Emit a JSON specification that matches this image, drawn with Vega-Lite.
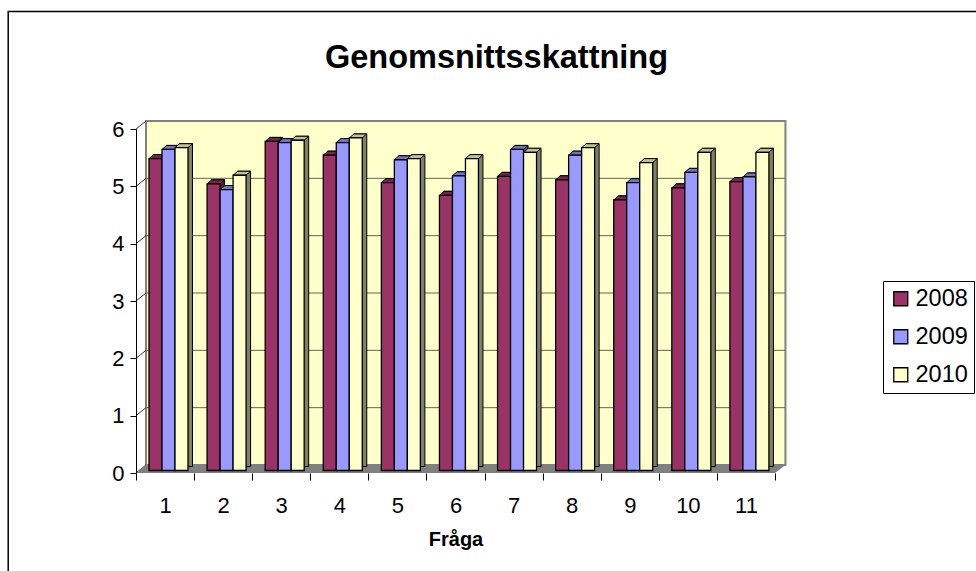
{
"$schema":"https://vega.github.io/schema/vega-lite/v6.json",
"width":639,"height":344,
"autosize":{"type":"none"},
"padding":{"left":136,"top":129,"right":201,"bottom":98},
"background":"white",
"config":{"view":{"stroke":null},"font":"Liberation Sans"},
"title":{"text":"Genomsnittsskattning","font":"Liberation Sans","fontSize":32.5,"fontWeight":"bold","color":"black","anchor":"middle","dx":41,"offset":-64},
"datasets":{
"scores":[
{"q":"1","year":"2008","v":5.44},{"q":"1","year":"2009","v":5.6},{"q":"1","year":"2010","v":5.63},
{"q":"2","year":"2008","v":5.0},{"q":"2","year":"2009","v":4.9},{"q":"2","year":"2010","v":5.15},
{"q":"3","year":"2008","v":5.74},{"q":"3","year":"2009","v":5.72},{"q":"3","year":"2010","v":5.76},
{"q":"4","year":"2008","v":5.5},{"q":"4","year":"2009","v":5.72},{"q":"4","year":"2010","v":5.8},
{"q":"5","year":"2008","v":5.02},{"q":"5","year":"2009","v":5.42},{"q":"5","year":"2010","v":5.44},
{"q":"6","year":"2008","v":4.8},{"q":"6","year":"2009","v":5.14},{"q":"6","year":"2010","v":5.44},
{"q":"7","year":"2008","v":5.13},{"q":"7","year":"2009","v":5.6},{"q":"7","year":"2010","v":5.55},
{"q":"8","year":"2008","v":5.07},{"q":"8","year":"2009","v":5.5},{"q":"8","year":"2010","v":5.63},
{"q":"9","year":"2008","v":4.72},{"q":"9","year":"2009","v":5.02},{"q":"9","year":"2010","v":5.37},
{"q":"10","year":"2008","v":4.93},{"q":"10","year":"2009","v":5.2},{"q":"10","year":"2010","v":5.55},
{"q":"11","year":"2008","v":5.04},{"q":"11","year":"2009","v":5.12},{"q":"11","year":"2010","v":5.55}],
"grid":[{"g":1},{"g":2},{"g":3},{"g":4},{"g":5}],
"ticks":[{"g":0},{"g":1},{"g":2},{"g":3},{"g":4},{"g":5},{"g":6}],
"floor":[{"x":0,"top":0,"bot":0},{"x":0.172,"top":0.14,"bot":0},{"x":11,"top":0.14,"bot":0},{"x":11.18,"top":0.14,"bot":0.14}]
},
"resolve":{"scale":{"x":"independent","color":"independent","xOffset":"independent"},"axis":{"y":"independent"}},
"layer":[
{"data":{"values":[{}]},"mark":{"type":"rect","fillOpacity":0,"fill":"white","stroke":"black","strokeWidth":1.5},
 "encoding":{"x":{"datum":-2.2,"type":"quantitative","scale":{"domain":[0,11]},"axis":null},"x2":{"datum":16},"y":{"datum":8.05,"type":"quantitative","scale":{"domain":[0,6]},"axis":null},"y2":{"datum":-3}}},
{"data":{"values":[{}]},"mark":{"type":"rect","fill":"#ffffcc","stroke":"#808080","strokeWidth":2},
 "encoding":{"x":{"datum":0.172,"type":"quantitative","scale":{"domain":[0,11]},"axis":null},"x2":{"datum":11.18},"y":{"datum":6.14,"type":"quantitative","scale":{"domain":[0,6]},"axis":null},"y2":{"datum":0.14}}},
{"data":{"name":"grid"},"mark":{"type":"rule","color":"#66664f","strokeWidth":1,"xOffset":10,"x2Offset":10,"yOffset":-8},
 "encoding":{"x":{"datum":0,"type":"quantitative","scale":{"domain":[0,11]},"axis":null},"x2":{"datum":11},"y":{"field":"g","type":"quantitative","scale":{"domain":[0,6]},"axis":null}}},
{"data":{"name":"ticks"},"mark":{"type":"rule","color":"#333333","strokeWidth":1,"x2Offset":10,"y2Offset":-8},
 "encoding":{"x":{"datum":0,"type":"quantitative","scale":{"domain":[0,11]},"axis":null},"x2":{"datum":0},"y":{"field":"g","type":"quantitative","scale":{"domain":[0,6]},"axis":null},"y2":{"field":"g"}}},
{"data":{"name":"floor"},"mark":{"type":"area","fill":"#808080"},
 "encoding":{"x":{"field":"x","type":"quantitative","scale":{"domain":[0,11]},"axis":null},"y":{"field":"top","type":"quantitative","scale":{"domain":[0,6]},"axis":null},"y2":{"field":"bot"}}},
{"data":{"name":"scores"},"mark":{"type":"bar","yOffset":-6.5,"y2Offset":-6.5,"stroke":"black","strokeWidth":1},
 "encoding":{"x":{"field":"q","type":"nominal","sort":null,"scale":{"paddingInner":0,"paddingOuter":0},"axis":null},"xOffset":{"field":"year","type":"nominal","scale":{"range":[17.5,56.5]}},"y":{"field":"v","type":"quantitative","scale":{"domain":[0,6]},"axis":null},
 "color":{"field":"year","type":"nominal","scale":{"domain":["2008","2009","2010"],"range":["#4d1a33","#4d4d80","#808066"]},"legend":null}}},
{"data":{"name":"scores"},"mark":{"type":"point","filled":true,"opacity":1,"size":4,"stroke":"black","strokeWidth":1,"yOffset":-2.5,"shape":"M-6.45,0 L6.45,0 L11,-4 L-1.9,-4 Z"},
 "encoding":{"x":{"field":"q","type":"nominal","sort":null,"scale":{"paddingInner":0,"paddingOuter":0},"axis":null},"xOffset":{"field":"year","type":"nominal","scale":{"range":[13,52]}},"y":{"field":"v","type":"quantitative","scale":{"domain":[0,6]},"axis":null},
 "color":{"field":"year","type":"nominal","scale":{"domain":["2008","2009","2010"],"range":["#73264d","#7373bf","#bfbf99"]},"legend":null}}},
{"data":{"name":"scores"},"mark":{"type":"bar","yOffset":-2.5,"y2Offset":-2.5,"stroke":"black","strokeWidth":1.3,"fillOpacity":1},
 "encoding":{"x":{"field":"q","type":"nominal","sort":null,"title":"Fråga","scale":{"paddingInner":0,"paddingOuter":0},
   "axis":{"tickBand":"extent","labelAngle":0,"labelFontSize":22,"labelColor":"black","labelPadding":15,"titleFontSize":20,"titleFontWeight":"bold","titleColor":"black","titlePadding":13,"domain":false,"tickColor":"black","tickSize":7,"grid":false,"zindex":1}},
  "xOffset":{"field":"year","type":"nominal","scale":{"range":[13,52]}},
  "y":{"field":"v","type":"quantitative","title":null,"scale":{"domain":[0,6]},
   "axis":{"values":[0,1,2,3,4,5,6],"labelFontSize":22,"labelColor":"black","labelPadding":6,"domainColor":"black","tickColor":"black","tickSize":6,"grid":false,"zindex":1}},
  "color":{"field":"year","type":"nominal","title":null,"scale":{"domain":["2008","2009","2010"],"range":["#993366","#9999ff","#ffffcc"]},
   "legend":{"orient":"none","legendX":747,"legendY":152,"strokeColor":"black","fillColor":"white","padding":6,"symbolType":"square","symbolSize":196,"symbolStrokeColor":"black","symbolStrokeWidth":1.3,"symbolOpacity":1,"labelFontSize":23.5,"labelColor":"black","labelOffset":3,"rowPadding":13,"labelLimit":70}}}}
]}
